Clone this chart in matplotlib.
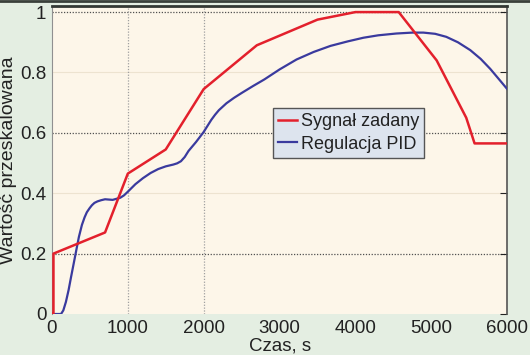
import matplotlib
matplotlib.use("Agg")
import matplotlib.pyplot as plt
from matplotlib.lines import Line2D

plt.rcParams['font.family'] = ['Liberation Sans', 'DejaVu Sans']

# Data
red_label = "Sygnał zadany"
blue_label = "Regulacja PID"
red_x = [0, 20, 20, 700, 1000, 1500, 2000, 2700, 3500, 4000, 4570, 5070, 5460, 5570, 6000]
red_y = [0, 0, 0.2, 0.27, 0.465, 0.545, 0.745, 0.89, 0.975, 1.0, 1.0, 0.84, 0.65, 0.565, 0.565]

blue_x = [0, 120, 150, 184, 220, 250, 285, 316, 355, 395, 430, 460, 495, 526, 560, 600,
          650, 700, 800, 900, 950, 1000, 1100, 1200, 1300, 1400, 1500, 1600, 1650, 1700,
          1750, 1800, 1900, 2000, 2050, 2100, 2150, 2200, 2300, 2400, 2500, 2650, 2800,
          3000, 3224, 3450, 3671, 3900, 4105, 4300, 4539, 4750, 4895, 5050, 5197, 5350,
          5513, 5650, 5776, 5900, 6000]
blue_y = [0, 0, 0.012, 0.04, 0.08, 0.12, 0.165, 0.205, 0.255, 0.295, 0.32, 0.337, 0.35,
          0.36, 0.368, 0.373, 0.377, 0.38, 0.378, 0.385, 0.393, 0.405, 0.43, 0.45, 0.467,
          0.48, 0.489, 0.495, 0.499, 0.506, 0.52, 0.54, 0.57, 0.603, 0.623, 0.643, 0.66,
          0.675, 0.698, 0.716, 0.732, 0.755, 0.777, 0.81, 0.843, 0.868, 0.888, 0.903,
          0.915, 0.923, 0.929, 0.932, 0.932, 0.928, 0.918, 0.9, 0.874, 0.845, 0.812,
          0.775, 0.745]

x_ticks = [0, 1000, 2000, 3000, 4000, 5000, 6000]
y_ticks = [0, 0.2, 0.4, 0.6, 0.8, 1.0]
y_tick_labels = ["0", "0.2", "0.4", "0.6", "0.8", "1"]
strong_hgrid = [0.2, 0.6, 1.0]
faint_hgrid = [0.4, 0.8]
vgrid = [1000, 2000]

fig = plt.figure(figsize=(5.3, 3.55), dpi=100)
fig.patch.set_facecolor('#e4eee2')
ax = fig.add_axes([0.098, 0.1155, 0.859, 0.8675])
ax.set_facecolor('#fdf6e9')

for g in faint_hgrid:
    ax.axhline(g, color='#ede3d0', lw=0.8, zorder=1)
for g in strong_hgrid:
    ax.axhline(g, color='#505050', lw=0.9, ls=(0, (1, 1.3)), zorder=1)
for g in vgrid:
    ax.axvline(g, color='#a0a0a0', lw=0.9, ls=(0, (1, 1.3)), zorder=1)

ax.plot(blue_x, blue_y, color='#3a3a9e', lw=1.6, label=blue_label, zorder=3)
ax.plot(red_x, red_y, color='#e3202c', lw=1.8, label=red_label, zorder=4)

ax.set_xlim(0, 6000)
ax.set_ylim(0, 1.02)
ax.set_xticks(x_ticks)
ax.set_yticks(y_ticks)
ax.set_yticklabels(y_tick_labels)
ax.tick_params(axis='both', labelsize=13.5, colors='#222222', direction='in',
               length=5, width=0.8, pad=4)
ax.tick_params(axis='y', right=True, left=False)
ax.tick_params(axis='x', bottom=False)

ax.spines['bottom'].set_visible(False)
ax.spines['left'].set_color('#909090')
ax.spines['left'].set_linewidth(0.8)
ax.spines['top'].set_color('#333833')
ax.spines['top'].set_linewidth(2)
ax.spines['right'].set_color('#555555')
ax.spines['right'].set_linewidth(1.2)

ax.set_xlabel("Czas, s", fontsize=13.5, color='#222222', labelpad=1)
ax.set_ylabel("Wartość przeskalowana", fontsize=14, color='#222222', labelpad=2)

handles, labels = ax.get_legend_handles_labels()
leg = ax.legend(handles[::-1], labels[::-1], loc='upper left',
                bbox_to_anchor=(0.485, 0.669), borderaxespad=0, fontsize=13,
                frameon=True, fancybox=False, framealpha=1, facecolor='#dde4ee',
                edgecolor='#555555', handlelength=1.05, handletextpad=0.2,
                borderpad=0.3, labelspacing=0.3)
leg.get_frame().set_linewidth(1.0)
for t in leg.get_texts():
    t.set_color('#222222')

fig.add_artist(Line2D([0, 1], [0.997, 0.997], transform=fig.transFigure,
                      color='#3a403a', lw=2))

fig.savefig('out.png', dpi=100, facecolor=fig.get_facecolor())
